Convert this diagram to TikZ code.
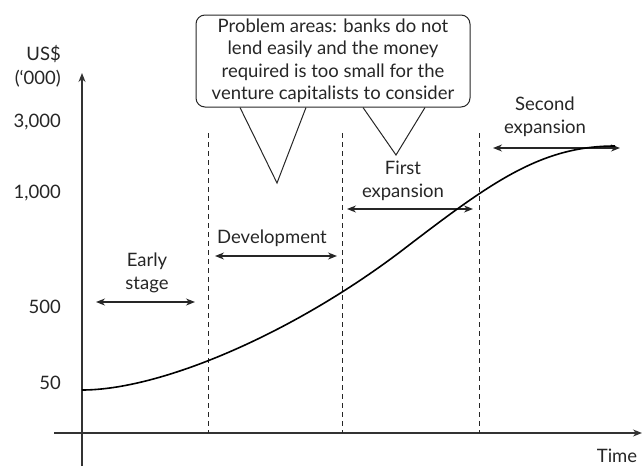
\documentclass[tikz,border=0pt]{standalone}
\usepackage{fontspec}
\setmainfont{Lato}
\usetikzlibrary{arrows.meta,positioning}
\tikzset{%
	lbl/.style={font=\fontsize{18.5}{22.5}\selectfont, align=center, inner sep=0pt, text=black!85},
	ticklbl/.style={lbl, anchor=east},
	axis/.style={draw=black!80, line width=1.3pt, -{Stealth[length=9pt,width=7pt]}},
	stagearr/.style={draw=black!85, line width=1.3pt, {Stealth[length=9pt,width=7pt]}-{Stealth[length=9pt,width=7pt]}},
	divider/.style={draw=black!85, line width=0.9pt, dash pattern=on 5pt off 4pt},
	growth/.style={draw=black, line width=1.6pt},
	callout/.style={draw=black!85, line width=1pt, rounded corners=9pt, minimum width=274pt, minimum height=92pt, lbl}
}

\begin{document}
\begin{tikzpicture}[x=1pt,y=-1pt]
	\useasboundingbox (0,0) rectangle (642,466);

	% axes
	\coordinate (origin) at (82,433);
	\coordinate (ytop) at (82,73);
	\coordinate (ybot) at (82,466);
	\coordinate (xleft) at (54,433);
	\coordinate (xright) at (642,433);
	\draw[axis] (ybot) -- (ytop);
	\draw[axis] (xleft) -- (xright);

	\node[ticklbl] (unit) at (61,54) {US\$};
	\node[ticklbl] (thousand) at (61,79) {(‘000)};
	\node[ticklbl] (v3000) at (61,122) {3,000};
	\node[ticklbl] (v1000) at (61,193) {1,000};
	\node[ticklbl] (v500) at (61,307) {500};
	\node[ticklbl] (v50) at (61,383) {50};
	\node[lbl, anchor=base] (time) at (617,462) {Time};

	% stage boundaries
	\foreach \x [count=\i] in {208,342,479} {
		\coordinate (top\i) at (\x,133);
		\draw[divider] (top\i) -- (top\i |- origin);
	}

	% stages
	\foreach \name/\txt/\cx/\cy/\xa/\xb/\ya in {%
		early/{Early\\stage}/147/273/96/195/302,
		dev/{Development}/272/238/215/337/256,
		first/{First\\expansion}/403/181/347/473/209,
		second/{Second\\expansion}/545/117/493/620/148} {
		\node[lbl] (\name) at (\cx,\cy) {\txt};
		\coordinate (\name L) at (\xa,\ya);
		\coordinate (\name R) at (\xb,\ya);
		\draw[stagearr] (\name L) -- (\name R);
	}

	% growth curve
	\coordinate (start) at (82,390);
	\coordinate (mid) at (400,252);
	\coordinate (finish) at (615,146);
	\draw[growth] (start) .. controls (160,390) and (290,335) .. (mid)
		.. controls (490,183) and (540,146) .. (finish);

	% problem callout
	\node[callout] (problem) at (333,61) {Problem areas: banks do not\\lend easily and the money\\required is too small for the\\venture capitalists to consider};
	\coordinate (tipA) at (277,183);
	\coordinate (tipB) at (396,155);
	\draw[draw=black!85, line width=1pt, line join=miter] ([xshift=-93pt]problem.south) -- (tipA) -- ([xshift=-27pt]problem.south);
	\draw[draw=black!85, line width=1pt, line join=miter] ([xshift=30pt]problem.south) -- (tipB) -- ([xshift=92pt]problem.south);
\end{tikzpicture}
\end{document}
